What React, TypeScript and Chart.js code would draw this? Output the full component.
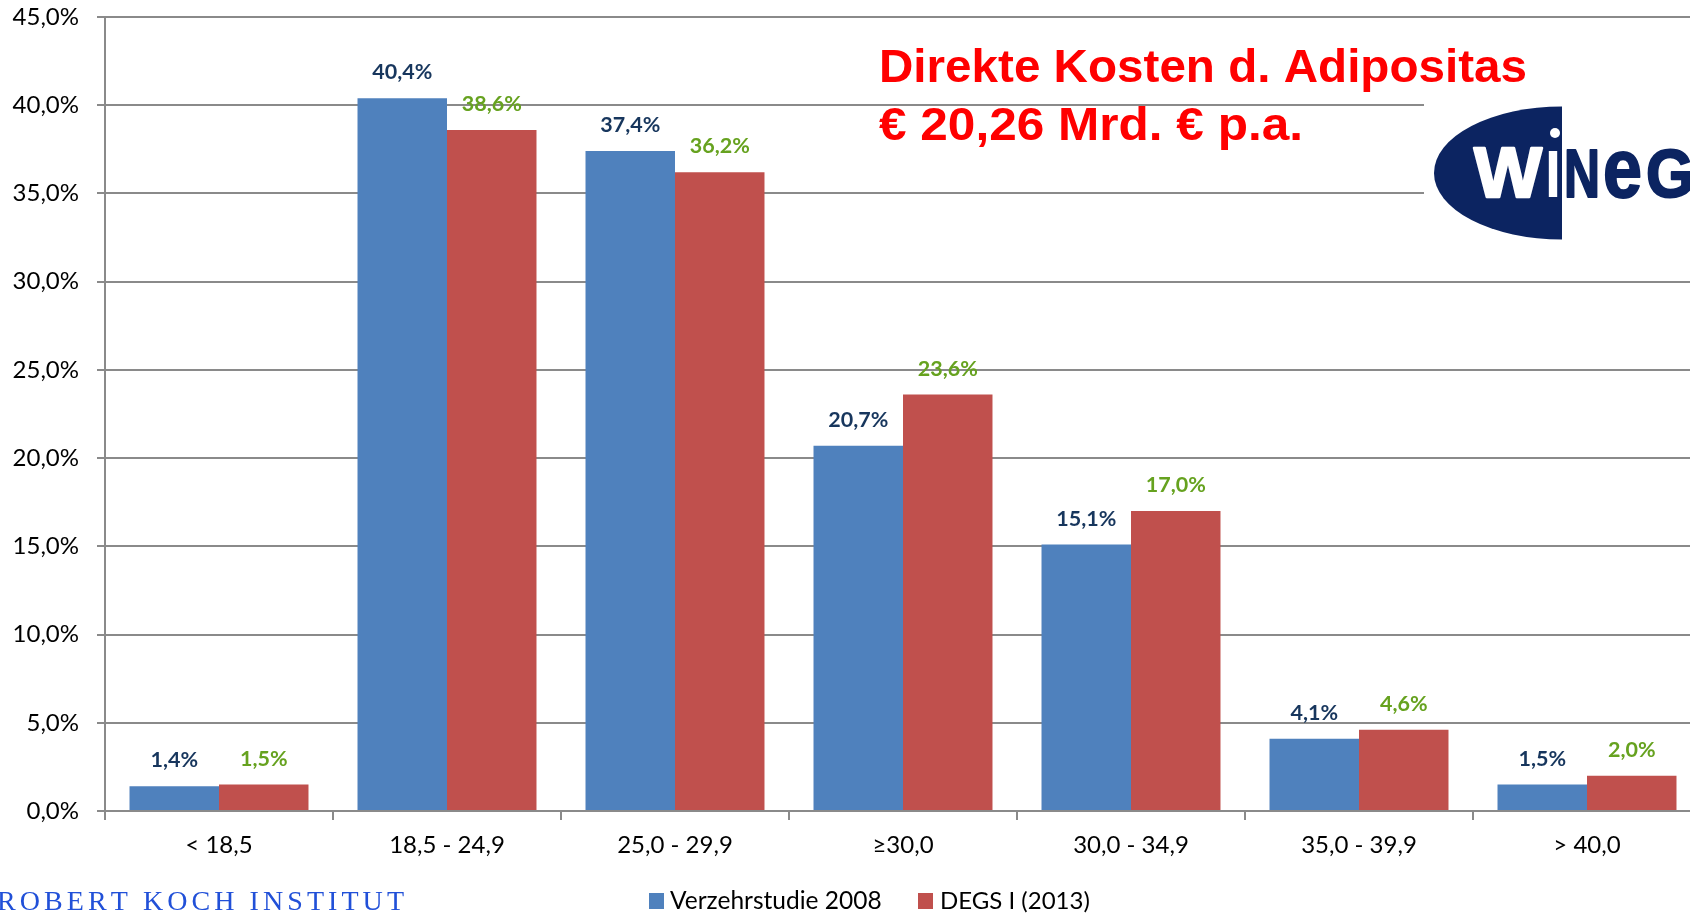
import { useEffect, useRef } from "react";
import { Chart, registerables } from "chart.js";

Chart.register(...registerables);

const categories = ["< 18,5", "18,5 - 24,9", "25,0 - 29,9", "≥30,0", "30,0 - 34,9", "35,0 - 39,9", "> 40,0"];
const verzehrstudie2008 = [1.4, 40.4, 37.4, 20.7, 15.1, 4.1, 1.5];
const degs2013 = [1.5, 38.6, 36.2, 23.6, 17.0, 4.6, 2.0];
const seriesNames = ["Verzehrstudie 2008", "DEGS I (2013)"];
const titleLines = ["Direkte Kosten d. Adipositas", "€ 20,26 Mrd. € p.a."];
const footerText = "ROBERT KOCH INSTITUT";
const yMax = 45;
const yStep = 5;

const BLUE = "#4F81BD";
const RED = "#C0504D";
const LABEL_COLORS = ["#17365D", "#66A21F"];
const GRID = "#8a8a8a";
const NAVY = "#0C2461";

const fmt = (v: number) => v.toFixed(1).replace(".", ",") + "%";

function drawFit(ctx: CanvasRenderingContext2D, text: string, font: string, x: number, baseline: number, w: number, stroke = 0) {
  ctx.save();
  ctx.font = font;
  const m = ctx.measureText(text).width;
  ctx.translate(x, baseline);
  ctx.scale(w / m, 1);
  ctx.textAlign = "left";
  ctx.textBaseline = "alphabetic";
  ctx.fillText(text, 0, 0);
  if (stroke > 0) {
    ctx.strokeStyle = ctx.fillStyle as string;
    ctx.lineWidth = stroke;
    ctx.lineJoin = "round";
    ctx.strokeText(text, 0, 0);
  }
  ctx.restore();
}

export default function App() {
  const ref = useRef<HTMLCanvasElement>(null);

  useEffect(() => {
    const canvas = ref.current!;
    const overlay = {
      id: "overlay",
      afterDraw(chart: any) {
        const ctx: CanvasRenderingContext2D = chart.ctx;
        ctx.save();
        // data labels
        ctx.font = "bold 21.5px Lato";
        ctx.textAlign = "center";
        ctx.textBaseline = "alphabetic";
        chart.data.datasets.forEach((ds: any, di: number) => {
          const meta = chart.getDatasetMeta(di);
          ctx.fillStyle = LABEL_COLORS[di];
          meta.data.forEach((el: any, i: number) => {
            ctx.fillText(fmt(ds.data[i]), el.x, el.y - 19);
          });
        });

        // logo background
        ctx.fillStyle = "#ffffff";
        ctx.fillRect(1424, 95, 320, 150);
        // logo shape
        ctx.save();
        ctx.beginPath();
        ctx.rect(1400, 90, 162, 160);
        ctx.clip();
        ctx.fillStyle = NAVY;
        ctx.beginPath();
        ctx.ellipse(1562, 173, 128, 66.5, 0, 0, Math.PI * 2);
        ctx.fill();
        ctx.restore();
        ctx.fillStyle = "#ffffff";
        drawFit(ctx, "W", 'bold 70px "Liberation Sans"', 1474, 197, 68, 2.5);
        drawFit(ctx, "I", 'bold 66px "Liberation Sans"', 1545, 197, 16);
        ctx.beginPath();
        ctx.arc(1555, 133, 5, 0, Math.PI * 2);
        ctx.fill();
        ctx.fillStyle = NAVY;
        drawFit(ctx, "N", 'bold 68px "Liberation Sans"', 1564, 197, 36, 2);
        drawFit(ctx, "e", 'bold 84px "Liberation Sans"', 1603, 197, 39, 2);
        drawFit(ctx, "G", 'bold 68px "Liberation Sans"', 1646, 197, 48, 2);

        // title
        ctx.fillStyle = "#FF0000";
        drawFit(ctx, titleLines[0], 'bold 47px "Liberation Sans"', 879, 82, 648);
        drawFit(ctx, titleLines[1], 'bold 47px "Liberation Sans"', 879, 140, 424);

        // footer
        ctx.fillStyle = "#2150D8";
        ctx.font = '28px "Liberation Serif"';
        ctx.textAlign = "left";
        ctx.textBaseline = "alphabetic";
        const chars = footerText.split("");
        const widths = chars.map((c) => ctx.measureText(c).width);
        const natural = widths.reduce((a, b) => a + b, 0);
        const extra = (407 - natural) / (chars.length - 1);
        let cx = -3;
        chars.forEach((c, i) => {
          ctx.fillText(c, cx, 910);
          cx += widths[i] + extra;
        });

        // legend
        ctx.font = "24.5px Lato";
        ctx.textBaseline = "middle";
        ctx.fillStyle = BLUE;
        ctx.fillRect(649, 893, 15, 16);
        ctx.fillStyle = "#000";
        ctx.fillText(seriesNames[0], 670, 901);
        ctx.fillStyle = RED;
        ctx.fillRect(918, 893, 15, 16);
        ctx.fillStyle = "#000";
        ctx.font = "24px Lato";
        ctx.fillText(seriesNames[1], 940, 901);
        ctx.restore();
      },
    };

    const chart = new Chart(canvas, {
      type: "bar",
      data: {
        labels: categories,
        datasets: [
          { label: seriesNames[0], data: verzehrstudie2008, backgroundColor: BLUE, borderWidth: 0, categoryPercentage: 0.785, barPercentage: 1.0 },
          { label: seriesNames[1], data: degs2013, backgroundColor: RED, borderWidth: 0, categoryPercentage: 0.785, barPercentage: 1.0 },
        ],
      },
      options: {
        responsive: false,
        devicePixelRatio: 1,
        animation: false,
        events: [],
        layout: { padding: { top: 17, right: 9, bottom: 0, left: 0 } },
        plugins: { legend: { display: false }, tooltip: { enabled: false }, title: { display: false } },
        scales: {
          x: {
            grid: { display: true, drawOnChartArea: false, drawTicks: true, tickLength: 9, color: GRID, lineWidth: 2 },
            border: { display: true, color: GRID, width: 2 },
            ticks: { color: "#000", font: { family: "Lato", size: 24 }, padding: 11, maxRotation: 0, autoSkip: false },
            afterFit: (s: any) => { s.height = 104; },
          },
          y: {
            min: 0,
            max: yMax,
            grid: { color: GRID, lineWidth: 2, tickLength: 8 },
            border: { display: true, color: GRID, width: 2 },
            ticks: { stepSize: yStep, color: "#000", font: { family: "Lato", size: 24 }, padding: 18, callback: (v: any) => fmt(Number(v)) },
            afterFit: (s: any) => { s.width = 105; s.paddingTop = 0; s.paddingBottom = 0; },
          },
        },
      },
      plugins: [overlay],
    } as any);
    return () => chart.destroy();
  }, []);

  return (
    <div style={{ position: "fixed", left: 0, top: 0, width: 1690, height: 915, overflow: "hidden", background: "#fff" }}>
      <canvas ref={ref} width={1710} height={915} style={{ display: "block", width: 1710, height: 915 }} />
    </div>
  );
}
